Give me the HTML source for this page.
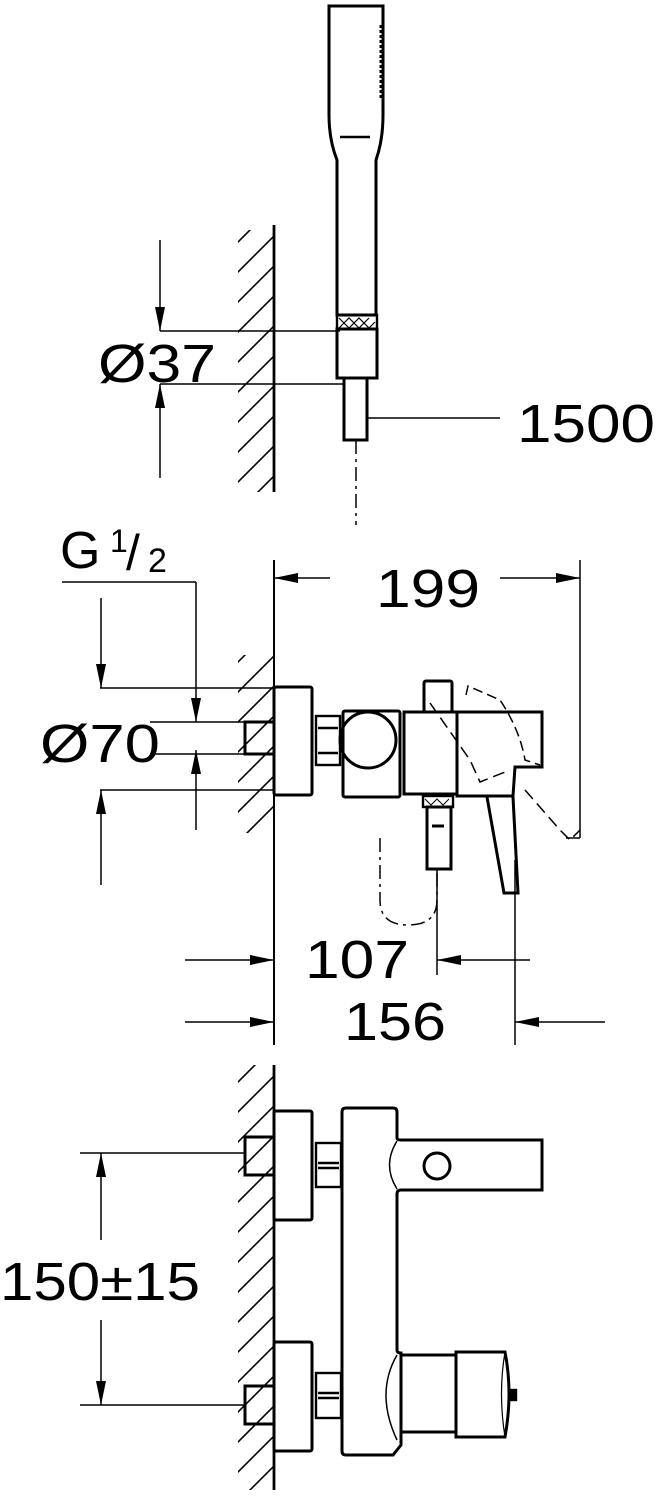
<!DOCTYPE html>
<html><head><style>body{margin:0;background:#fff}svg{display:block}text{font-family:"Liberation Sans",sans-serif;fill:#000}</style></head>
<body>
<svg width="660" height="1500" viewBox="0 0 660 1500" xmlns="http://www.w3.org/2000/svg">
<defs>
<marker id="a" viewBox="0 0 24 10" refX="24" refY="5" markerWidth="24" markerHeight="10" markerUnits="userSpaceOnUse" orient="auto"><path d="M0,0 L24,5 L0,10 z" fill="#000"/></marker>
<pattern id="h" width="30" height="30" patternUnits="userSpaceOnUse"><path d="M-5,35 L35,-5 M-35,35 L5,-5 M25,35 L65,-5" stroke="#000" stroke-width="1.6"/></pattern>
</defs>
<g fill="none" stroke="#000" stroke-width="2.4">
<rect x="238" y="230" width="36" height="262" fill="url(#h)" stroke="none"/>
<line x1="274" y1="225" x2="274" y2="492" stroke-width="2.8"/>
<rect x="238" y="655" width="36" height="178" fill="url(#h)" stroke="none"/>
<line x1="274" y1="560" x2="274" y2="1045" stroke-width="2"/>
<rect x="238" y="1065" width="36" height="425" fill="url(#h)" stroke="none"/>
<line x1="274" y1="1065" x2="274" y2="1490" stroke-width="2.8"/>

<path d="M329,6 H383 V115 Q383,140 376,160 V315 H337 V160 Q329,140 329,115 Z" stroke-width="3"/>
<line x1="340" y1="137" x2="370" y2="137"/>
<line x1="381" y1="25" x2="381" y2="100" stroke-width="3" stroke-dasharray="3,2"/>
<rect x="337" y="315" width="40" height="14"/>
<path d="M339,318 l10,10 l10,-10 l10,10 l6,-6 M339,328 l10,-10 l10,10 l10,-10" stroke-width="1.2"/>
<rect x="337" y="329" width="40" height="49" stroke-width="3"/>
<rect x="344" y="378" width="23" height="62" stroke-width="3"/>
<line x1="356" y1="440" x2="356" y2="525" stroke-width="1.5" stroke-dasharray="14,5,3,5"/>
<line x1="160" y1="331" x2="340" y2="331" stroke-width="1.5"/>
<line x1="160" y1="384" x2="344" y2="384" stroke-width="1.5"/>
<line x1="160" y1="240" x2="160" y2="331" stroke-width="1.5" marker-end="url(#a)"/>
<line x1="160" y1="478" x2="160" y2="384" stroke-width="1.5" marker-end="url(#a)"/>
<line x1="368" y1="418" x2="500" y2="418" stroke-width="1.5"/>

<line x1="330" y1="578" x2="274" y2="578" stroke-width="1.5" marker-end="url(#a)"/>
<line x1="500" y1="578" x2="580" y2="578" stroke-width="1.5" marker-end="url(#a)"/>
<line x1="580" y1="560" x2="580" y2="838" stroke-width="1.5"/>
<line x1="566" y1="838" x2="580" y2="838" stroke-width="1.5"/>
<line x1="62" y1="582" x2="196" y2="582" stroke-width="1.5"/>
<line x1="196" y1="582" x2="196" y2="722" stroke-width="1.5" marker-end="url(#a)"/>
<line x1="196" y1="830" x2="196" y2="750" stroke-width="1.5" marker-end="url(#a)"/>
<line x1="101" y1="598" x2="101" y2="688" stroke-width="1.5" marker-end="url(#a)"/>
<line x1="101" y1="885" x2="101" y2="790" stroke-width="1.5" marker-end="url(#a)"/>
<line x1="100" y1="688" x2="274" y2="688" stroke-width="1.5"/>
<line x1="100" y1="790" x2="274" y2="790" stroke-width="1.5"/>
<line x1="150" y1="722" x2="245" y2="722" stroke-width="1.5"/>
<line x1="150" y1="754" x2="245" y2="754" stroke-width="1.5"/>
<rect x="245" y="722" width="29" height="32" stroke-width="3"/>
<rect x="274" y="687" width="38" height="108" rx="2" stroke-width="3"/>
<rect x="316" y="716" width="24" height="49"/>
<line x1="318" y1="728" x2="338" y2="728"/><line x1="318" y1="753" x2="338" y2="753"/>
<rect x="343" y="711" width="57" height="86" rx="2" stroke-width="3"/>
<circle cx="368" cy="740" r="28" stroke-width="3"/>
<rect x="404" y="712" width="53" height="82" stroke-width="3"/>
<rect x="424" y="681" width="28" height="31" rx="2" stroke-width="3"/>
<path d="M457,712 H542 V767 H515 L513,796 H457 Z" stroke-width="3"/>
<path d="M487,797 L504,893 H518 L513,797" stroke-width="3"/>
<rect x="423" y="796" width="30" height="11"/>
<path d="M425,799 l6,6 l6,-6 l6,6 l6,-6" stroke-width="1"/>
<rect x="427" y="807" width="24" height="62" stroke-width="3"/>
<line x1="432" y1="826" x2="444" y2="826" stroke-width="3"/>
<path d="M466,695 L468,686 L500,700 Q520,730 525,760 L540,765" stroke-width="1.5" stroke-dasharray="10,5"/>
<path d="M430,703 L470,760 L480,782 L510,770 M525,790 L560,830 L570,840 L580,830" stroke-width="1.5" stroke-dasharray="12,6"/>
<path d="M380,838 V900 Q380,925 408,925 Q437,925 437,900 V870" stroke-width="1.5" stroke-dasharray="14,5,3,5"/>
<line x1="437" y1="870" x2="437" y2="975" stroke-width="1.5"/>
<line x1="515" y1="860" x2="515" y2="1045" stroke-width="1.5"/>
<line x1="185" y1="960" x2="274" y2="960" stroke-width="1.5" marker-end="url(#a)"/>
<line x1="530" y1="960" x2="437" y2="960" stroke-width="1.5" marker-end="url(#a)"/>
<line x1="185" y1="1022" x2="274" y2="1022" stroke-width="1.5" marker-end="url(#a)"/>
<line x1="605" y1="1022" x2="515" y2="1022" stroke-width="1.5" marker-end="url(#a)"/>

<line x1="80" y1="1153" x2="245" y2="1153" stroke-width="1.5"/>
<line x1="80" y1="1405" x2="245" y2="1405" stroke-width="1.5"/>
<line x1="101" y1="1240" x2="101" y2="1153" stroke-width="1.5" marker-end="url(#a)"/>
<line x1="101" y1="1320" x2="101" y2="1405" stroke-width="1.5" marker-end="url(#a)"/>
<rect x="245" y="1137" width="29" height="38" stroke-width="3"/>
<rect x="245" y="1386" width="29" height="38" stroke-width="3"/>
<rect x="274" y="1111" width="38" height="109" rx="2" stroke-width="3"/>
<rect x="274" y="1342" width="38" height="109" rx="2" stroke-width="3"/>
<rect x="316" y="1143" width="25" height="44"/>
<line x1="318" y1="1163" x2="339" y2="1163"/><line x1="318" y1="1168" x2="339" y2="1168"/>
<rect x="316" y="1373" width="25" height="45"/>
<line x1="318" y1="1393" x2="339" y2="1393"/><line x1="318" y1="1398" x2="339" y2="1398"/>
<path d="M342,1112 Q342,1108 346,1108 H393 Q397,1108 397,1112 V1138 Q397,1140 401,1140 H542 V1190 H401 Q397,1190 397,1194 V1350 Q397,1353 401,1353 V1445 Q397,1450 393,1455 H346 Q342,1455 342,1451 Z" stroke-width="3"/>
<path d="M397,1141 Q382,1165 397,1189" stroke-width="1.5"/>
<path d="M397,1355 Q375,1393 397,1440" stroke-width="1.5"/>
<circle cx="437" cy="1166" r="13" stroke-width="3"/>
<rect x="401" y="1355" width="55" height="77" stroke-width="3"/>
<path d="M456,1352 H505 Q513,1393 505,1437 H456 Z" stroke-width="3"/>
<path d="M505,1352 Q498,1393 505,1437" stroke-width="1.2"/>
<rect x="510" y="1390" width="6" height="10" fill="#000"/>
</g>
<g font-size="54">
<text x="98" y="382" textLength="118" lengthAdjust="spacingAndGlyphs">Ø37</text>
<text x="517" y="442" textLength="138" lengthAdjust="spacingAndGlyphs">1500</text>
<text x="376" y="607" textLength="104" lengthAdjust="spacingAndGlyphs">199</text>
<text x="60" y="568" font-size="52">G</text>
<text x="110" y="552" font-size="32">1</text>
<text x="126" y="570" font-size="50">/</text>
<text x="148" y="572" font-size="34">2</text>
<text x="40" y="762" textLength="120" lengthAdjust="spacingAndGlyphs">Ø70</text>
<text x="305" y="978" textLength="104" lengthAdjust="spacingAndGlyphs">107</text>
<text x="344" y="1040" textLength="102" lengthAdjust="spacingAndGlyphs">156</text>
<text x="0" y="1300" textLength="200" lengthAdjust="spacingAndGlyphs">150±15</text>
</g>
</svg>
</body></html>
